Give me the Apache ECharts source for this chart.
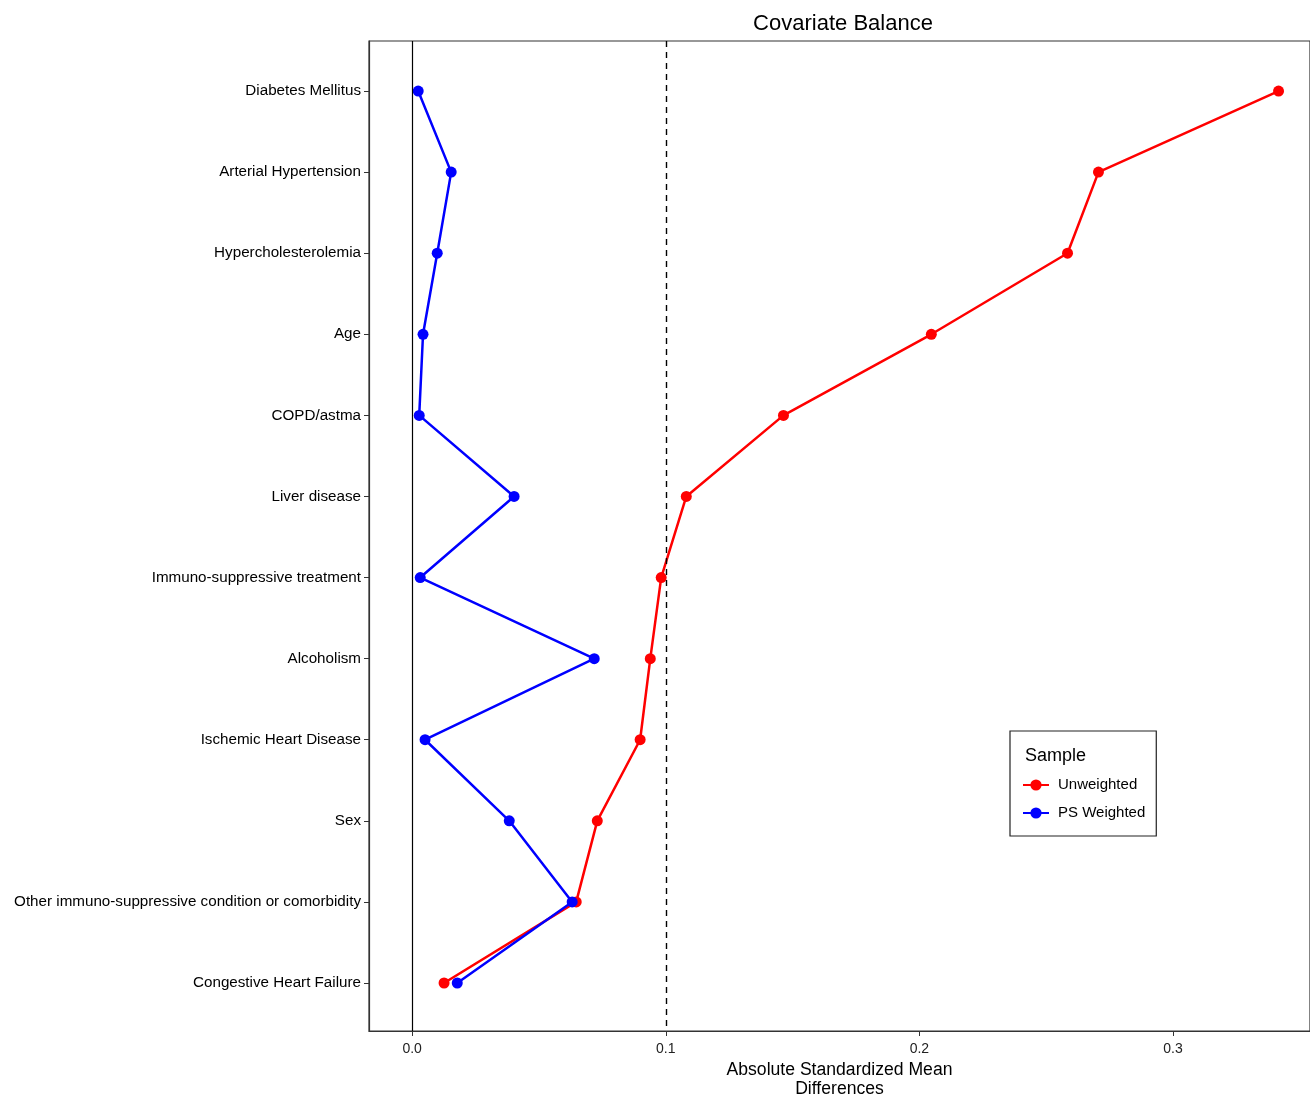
<!DOCTYPE html>
<html>
<head>
<meta charset="utf-8">
<script src="https://cdn.jsdelivr.net/npm/echarts@6/dist/echarts.min.js"></script>
<style>html,body{margin:0;padding:0;background:#fff}#c{width:1310px;height:1094px}</style>
</head>
<body>
<div id="c"></div>
<script>
const categories = ["Diabetes Mellitus","Arterial Hypertension","Hypercholesterolemia","Age","COPD/astma","Liver disease","Immuno-suppressive treatment","Alcoholism","Ischemic Heart Disease","Sex","Other immuno-suppressive condition or comorbidity","Congestive Heart Failure"];
const unweighted = [0.3416,0.2706,0.2584,0.2047,0.1464,0.1081,0.0982,0.0939,0.0899,0.0730,0.0647,0.0126];
const psWeighted = [0.0024,0.0154,0.0099,0.0043,0.0028,0.0402,0.0032,0.0718,0.0051,0.0383,0.0631,0.0178];
const xTicks = [0, 0.1, 0.2, 0.3];

const idx = categories.map((_, i) => i);
const font = "Liberation Sans, Arial, sans-serif";
const chart = echarts.init(document.getElementById('c'), null, {renderer: 'canvas'});
chart.setOption({
  animation: false,
  backgroundColor: '#fff',
  title: [
    {text: 'Covariate Balance', left: 838, top: 8, textAlign: 'center',
     textStyle: {fontFamily: font, fontSize: 22, fontWeight: 'normal', color: '#000'}},
    {text: 'Sample', left: 1020, top: 742,
     textStyle: {fontFamily: font, fontSize: 18, fontWeight: 'normal', color: '#000'}}
  ],
  grid: {left: 369, right: 0, top: 41, bottom: 63, show: true, borderColor: '#333', borderWidth: 1.2, outerBoundsMode: 'none', containLabel: false},
  legend: {
    orient: 'vertical', left: 1010, top: 731, width: 146,
    padding: [45, 11, 14, 12], itemGap: 10, itemWidth: 26, itemHeight: 14,
    borderColor: '#222', borderWidth: 1.2, backgroundColor: '#fff',
    textStyle: {fontFamily: font, fontSize: 15, color: '#000', lineHeight: 18, padding: [0, 0, 0, 4]},
    data: ['Unweighted', 'PS Weighted']
  },
  xAxis: {
    type: 'value', min: -0.017, max: 0.354,
    splitLine: {show: false},
    axisLine: {show: true, onZero: false, lineStyle: {color: '#333', width: 1.2}},
    axisTick: {show: true, customValues: xTicks, length: 5, lineStyle: {color: '#333'}},
    axisLabel: {customValues: xTicks, formatter: v => v.toFixed(1), fontFamily: font, fontSize: 14, color: '#222', margin: 11},
    name: 'Absolute Standardized Mean\nDifferences', nameLocation: 'middle', nameGap: 26,
    nameTextStyle: {fontFamily: font, fontSize: 17.6, color: '#000', lineHeight: 19}
  },
  yAxis: {
    type: 'value', inverse: true, min: -0.617, max: 11.592,
    splitLine: {show: false},
    axisLine: {show: true, onZero: false, lineStyle: {color: '#333', width: 1.2}},
    axisTick: {show: true, customValues: idx, length: 5, lineStyle: {color: '#333'}},
    axisLabel: {customValues: idx, formatter: v => categories[Math.round(v)], fontFamily: font, fontSize: 15.2, color: '#000', margin: 8}
  },
  series: [
    {
      name: 'Unweighted', type: 'line', color: '#FF0000',
      data: unweighted.map((v, i) => [v, i]),
      symbol: 'circle', symbolSize: 11, lineStyle: {width: 2.5, color: '#FF0000'},
      itemStyle: {color: '#FF0000'}, z: 3,
      markLine: {
        silent: true, symbol: 'none', label: {show: false},
        data: [
          {xAxis: 0, lineStyle: {color: '#000', width: 1.2, type: 'solid'}},
          {xAxis: 0.1, lineStyle: {color: '#000', width: 1.4, type: [6, 5]}}
        ]
      }
    },
    {
      name: 'PS Weighted', type: 'line', color: '#0000FF',
      data: psWeighted.map((v, i) => [v, i]),
      symbol: 'circle', symbolSize: 11, lineStyle: {width: 2.5, color: '#0000FF'},
      itemStyle: {color: '#0000FF'}, z: 4
    }
  ]
});
</script>
</body>
</html>
